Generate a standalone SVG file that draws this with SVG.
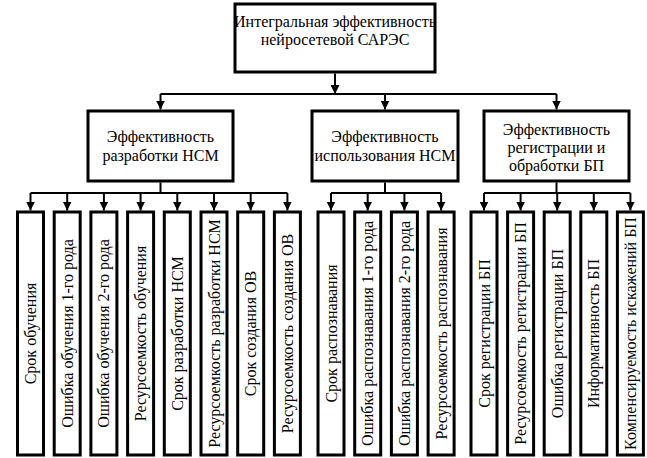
<svg xmlns="http://www.w3.org/2000/svg" width="647" height="458" viewBox="0 0 647 458">
<style>
.box{fill:#fff;stroke:#000;stroke-width:3}
.ln{fill:none;stroke:#000;stroke-width:2}
.arr{fill:none;stroke:#000;stroke-width:2;marker-end:url(#ah)}
.c{text-anchor:middle}
</style>
<defs>
<marker id="ah" markerUnits="userSpaceOnUse" markerWidth="9" markerHeight="9" viewBox="0 0 9 9" refX="9" refY="4.5" orient="auto">
<path d="M0,0 L9,4.5 L0,9 Z" fill="#000"/>
</marker>
</defs>
<g id="connectors">
<path class="arr" d="M335,73.5 V94"/>
<path class="ln" d="M160.5,94 H556.5"/>
<path class="arr" d="M160.5,94 V109.5"/>
<path class="arr" d="M385,94 V109.5"/>
<path class="arr" d="M556.5,94 V109.5"/>
<path class="ln" d="M160.5,182.5 V193 M30.5,193 H287.4"/>
<path class="ln" d="M385,182.5 V193 M331,193 H441.1"/>
<path class="ln" d="M556.5,182.5 V193 M484,193 H630.4"/>
<path class="arr" d="M30.5,193 V210.5"/>
<path class="arr" d="M67.2,193 V210.5"/>
<path class="arr" d="M103.9,193 V210.5"/>
<path class="arr" d="M140.6,193 V210.5"/>
<path class="arr" d="M177.3,193 V210.5"/>
<path class="arr" d="M214,193 V210.5"/>
<path class="arr" d="M250.7,193 V210.5"/>
<path class="arr" d="M287.4,193 V210.5"/>
<path class="arr" d="M331,193 V210.5"/>
<path class="arr" d="M367.7,193 V210.5"/>
<path class="arr" d="M404.4,193 V210.5"/>
<path class="arr" d="M441.1,193 V210.5"/>
<path class="arr" d="M484,193 V210.5"/>
<path class="arr" d="M520.6,193 V210.5"/>
<path class="arr" d="M557.2,193 V210.5"/>
<path class="arr" d="M593.8,193 V210.5"/>
<path class="arr" d="M630.4,193 V210.5"/>
</g>
<g font-family="'Liberation Serif', 'Times New Roman', serif" font-size="16" fill="#000">
<g id="root">
<rect class="box" x="235" y="4" width="200" height="68"/>
<text class="c" x="335" y="27">Интегральная эффективность</text>
<text class="c" x="335" y="45">нейросетевой САРЭС</text>
</g>
<g id="dev">
<rect class="box" x="88" y="111" width="145" height="70"/>
<text class="c" x="160.5" y="142">Эффективность</text>
<text class="c" x="160.5" y="161">разработки НСМ</text>
</g>
<g id="use">
<rect class="box" x="312" y="111" width="146" height="70"/>
<text class="c" x="385" y="142">Эффективность</text>
<text class="c" x="385" y="161">использования НСМ</text>
</g>
<g id="reg">
<rect class="box" x="484" y="111" width="145" height="70"/>
<text class="c" x="556.5" y="135">Эффективность</text>
<text class="c" x="556.5" y="153">регистрации и</text>
<text class="c" x="556.5" y="171">обработки БП</text>
</g>
<g id="n1"><rect class="box" x="17.5" y="212" width="26" height="243"/><text class="c" transform="translate(36,333.5) rotate(-90)">Срок обучения</text></g>
<g id="n2"><rect class="box" x="54.2" y="212" width="26" height="243"/><text class="c" transform="translate(72.7,333.5) rotate(-90)">Ошибка обучения 1-го рода</text></g>
<g id="n3"><rect class="box" x="90.9" y="212" width="26" height="243"/><text class="c" transform="translate(109.4,333.5) rotate(-90)">Ошибка обучения 2-го рода</text></g>
<g id="n4"><rect class="box" x="127.6" y="212" width="26" height="243"/><text class="c" transform="translate(146.1,333.5) rotate(-90)">Ресурсоемкость обучения</text></g>
<g id="n5"><rect class="box" x="164.3" y="212" width="26" height="243"/><text class="c" transform="translate(182.8,333.5) rotate(-90)">Срок разработки НСМ</text></g>
<g id="n6"><rect class="box" x="201" y="212" width="26" height="243"/><text class="c" transform="translate(219.5,333.5) rotate(-90)">Ресурсоемкость разработки НСМ</text></g>
<g id="n7"><rect class="box" x="237.7" y="212" width="26" height="243"/><text class="c" transform="translate(256.2,333.5) rotate(-90)">Срок создания ОВ</text></g>
<g id="n8"><rect class="box" x="274.4" y="212" width="26" height="243"/><text class="c" transform="translate(292.9,333.5) rotate(-90)">Ресурсоемкость создания ОВ</text></g>
<g id="n9"><rect class="box" x="318" y="212" width="26" height="243"/><text class="c" transform="translate(336.5,333.5) rotate(-90)">Срок распознавания</text></g>
<g id="n10"><rect class="box" x="354.7" y="212" width="26" height="243"/><text class="c" transform="translate(373.2,333.5) rotate(-90)">Ошибка распознавания 1-го рода</text></g>
<g id="n11"><rect class="box" x="391.4" y="212" width="26" height="243"/><text class="c" transform="translate(409.9,333.5) rotate(-90)">Ошибка распознавания 2-го рода</text></g>
<g id="n12"><rect class="box" x="428.1" y="212" width="26" height="243"/><text class="c" transform="translate(446.6,333.5) rotate(-90)">Ресурсоемкость распознавания</text></g>
<g id="n13"><rect class="box" x="471" y="212" width="26" height="243"/><text class="c" transform="translate(489.5,333.5) rotate(-90)">Срок регистрации БП</text></g>
<g id="n14"><rect class="box" x="507.6" y="212" width="26" height="243"/><text class="c" transform="translate(526.1,333.5) rotate(-90)">Ресурсоемкость регистрации БП</text></g>
<g id="n15"><rect class="box" x="544.2" y="212" width="26" height="243"/><text class="c" transform="translate(562.7,333.5) rotate(-90)">Ошибка регистрации БП</text></g>
<g id="n16"><rect class="box" x="580.8" y="212" width="26" height="243"/><text class="c" transform="translate(599.3,333.5) rotate(-90)">Информативность БП</text></g>
<g id="n17"><rect class="box" x="617.4" y="212" width="26" height="243"/><text class="c" transform="translate(635.9,333.5) rotate(-90)">Компенсируемость искажений БП</text></g>
</g>
</svg>
